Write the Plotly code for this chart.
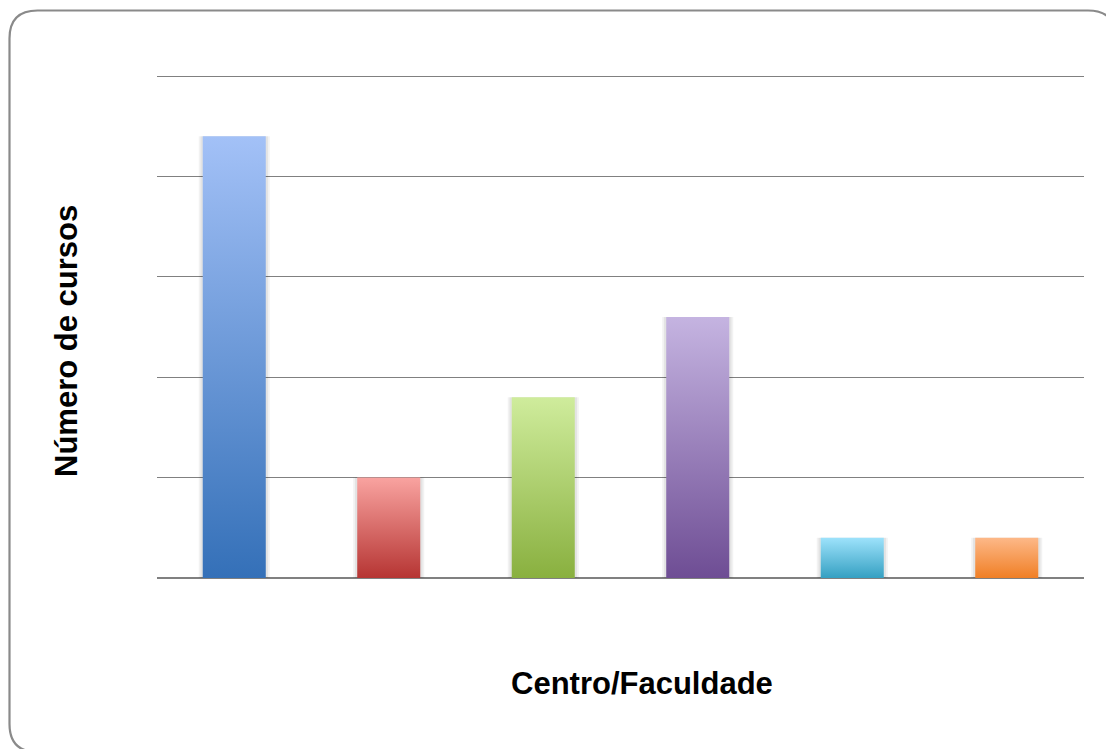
import plotly.graph_objects as go

# Data (axis has no tick labels, grid step read as 5)
categories = ["Centro 1", "Centro 2", "Centro 3", "Centro 4", "Centro 5", "Centro 6"]
values = [22, 5, 9, 13, 2, 2]
top_colors = ["#A3C1F7", "#F9A3A0", "#CFEC9C", "#C5B4E1", "#9DE2FB", "#FDB888"]
bottom_colors = ["#3470B8", "#B63533", "#89B03F", "#6E4D94", "#35A0C2", "#F07F25"]

W, H = 1106, 749
YMAX = 25.5
ML, MR, MB = 157, 22, 171
PW = W - ML - MR
PH = round(502 * YMAX / 25)
MT = H - MB - PH

fig = go.Figure()

hw = 0.204  # half bar width in category units
sh = 0.026  # shadow extra
for i, (cat, v) in enumerate(zip(categories, values)):
    # soft shadow
    for k, a in [(1.0, 0.05), (0.55, 0.06)]:
        fig.add_trace(go.Scatter(
            x=[i - hw - sh * k, i + hw + sh * k, i + hw + sh * k, i - hw - sh * k, i - hw - sh * k],
            y=[-0.08 * k, -0.08 * k, v, v, -0.08 * k],
            fill="toself", mode="lines", line=dict(width=0),
            fillcolor=f"rgba(0,0,0,{a})", hoverinfo="skip", showlegend=False))
    fig.add_trace(go.Scatter(
        x=[i - hw, i + hw, i + hw, i - hw, i - hw],
        y=[0, 0, v, v, 0],
        fill="toself", mode="lines", line=dict(width=0),
        fillgradient=dict(type="vertical",
                          colorscale=[[0, bottom_colors[i]], [1, top_colors[i]]]),
        name=cat, hovertemplate=f"{cat}: {v}<extra></extra>", showlegend=False))

# rounded frame (open on the right, which lies outside the picture) in paper coordinates
def px(x):
    return (x - ML) / PW

def py(y):
    return (H - MB - y) / PH

L, T, R, B, r = 9.5, 10.5, 1116, 752, 28
path = (f"M {px(R)},{py(T + r)} Q {px(R)},{py(T)} {px(R - r)},{py(T)} "
        f"L {px(L + r)},{py(T)} Q {px(L)},{py(T)} {px(L)},{py(T + r)} "
        f"L {px(L)},{py(B - r)} Q {px(L)},{py(B)} {px(L + r)},{py(B)} "
        f"L {px(R - r)},{py(B)}")

fig.update_layout(
    width=W, height=H,
    margin=dict(l=ML, r=MR, t=MT, b=MB, pad=0),
    paper_bgcolor="white", plot_bgcolor="white",
    font=dict(family="Liberation Sans, Arial, sans-serif", color="black"),
    xaxis=dict(range=[-0.5, len(categories) - 0.5], showgrid=False, zeroline=False,
               showticklabels=False, ticks="", showline=False, fixedrange=True),
    yaxis=dict(range=[0, YMAX], dtick=5, showgrid=True, gridcolor="#808080", gridwidth=1.4,
               zeroline=True, zerolinecolor="#808080", zerolinewidth=1.5,
               showticklabels=False, ticks="", showline=False, fixedrange=True),
    shapes=[dict(type="path", xref="paper", yref="paper", path=path,
                 line=dict(color="#8A8A8A", width=2.2), layer="above")],
    annotations=[
        dict(text="<b>Centro/Faculdade</b>", xref="paper", yref="paper",
             x=px(641.5), y=py(683), xanchor="center", yanchor="middle",
             showarrow=False, font=dict(size=31, color="black")),
        dict(text="<b>Número de cursos</b>", xref="paper", yref="paper",
             x=px(66), y=py(341), xanchor="center", yanchor="middle", textangle=-90,
             showarrow=False, font=dict(size=31, color="black")),
    ],
)

fig.write_html("out.html", config={"displayModeBar": False},
               post_script="document.body.style.margin='0';")
